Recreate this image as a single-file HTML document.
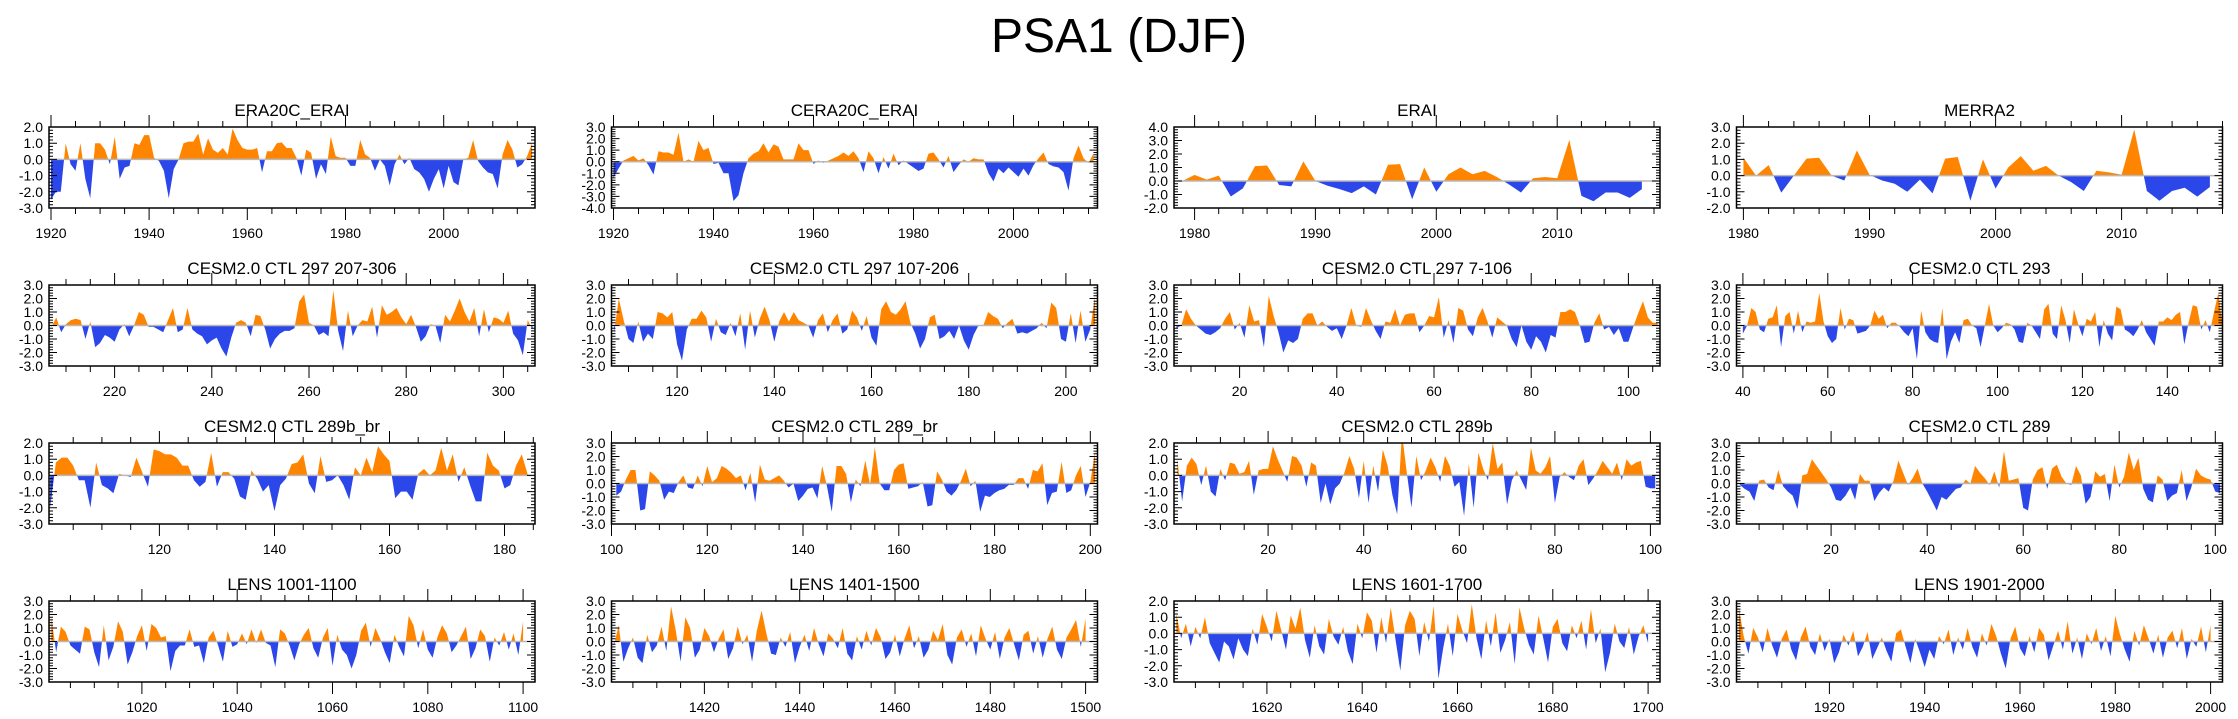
<!DOCTYPE html>
<html><head><meta charset="utf-8"><style>
html,body{margin:0;padding:0;background:#fff;}
svg{display:block;font-family:"Liberation Sans",sans-serif;}
</style></head>
<body>
<svg id="fig" width="2238" height="719" viewBox="0 0 2238 719" xmlns="http://www.w3.org/2000/svg">
<text x="1119" y="52" text-anchor="middle" font-size="48" fill="#000">PSA1 (DJF)</text>
</svg>
<script>
const titles = ["ERA20C_ERAI","CERA20C_ERAI","ERAI","MERRA2",
"CESM2.0 CTL 297 207-306","CESM2.0 CTL 297 107-206","CESM2.0 CTL 297 7-106","CESM2.0 CTL 293",
"CESM2.0 CTL 289b_br","CESM2.0 CTL 289_br","CESM2.0 CTL 289b","CESM2.0 CTL 289",
"LENS 1001-1100","LENS 1401-1500","LENS 1601-1700","LENS 1901-2000"];
const startYears = [1920,1920,1979,1980,207,107,7,40,101,101,1,1,1001,1401,1601,1901];
const xMins = [1919.6,1919.6,1978.3,1979.45,206.5,106.5,6.5,38.5,100.8,100,0.3,0.3,1000.5,1400.5,1600.5,1900.5];
const xMaxs = [2018.6,2016.8,2018.5,2018.0,306.5,206.5,106.5,153,185.3,201.5,102,101.5,1102.5,1502.5,1702.5,2002.5];
const yMins = [-3,-4,-2,-2,-3,-3,-3,-3,-3,-3,-3,-3,-3,-3,-3,-3];
const yMaxs = [2,3,4,3,3,3,3,3,2,3,2,3,3,3,2,3];
const majorSteps = [20,20,10,10,20,20,20,20,20,20,20,20,20,20,20,20];
const minorSteps = [5,5,2,2,5,5,5,5,5,5,5,5,5,5,5,5];

const v0 = [-2.5,-2.0,-2.0,1.0,-0.3,-0.7,1.0,-1.2,-2.4,1.0,1.0,0.6,-0.3,1.4,-1.2,-0.5,-0.4,1.0,0.9,1.5,1.5,0.1,-0.1,-0.7,-2.4,-0.6,0.0,1.0,1.1,1.1,1.6,0.3,1.3,0.6,0.4,0.7,0.3,1.9,1.2,0.7,0.6,0.6,0.7,-0.8,0.5,0.5,1.0,1.05,0.7,0.7,0.1,-1.0,0.6,0.4,-1.2,-0.3,-0.9,1.4,0.2,0.1,0.1,-0.4,-0.4,1.2,0.3,0.1,-0.7,0.0,-0.4,-1.6,-0.3,0.3,-0.3,0.1,-0.6,-0.8,-1.2,-2.0,-1.2,-0.6,-1.8,-0.4,-1.4,-1.6,0.0,0.1,1.2,-0.1,-0.5,-0.8,-0.9,-1.8,0.3,1.2,0.6,-0.5,-0.3,0.2,1.0];
const v1 = [-1.4,-0.6,0.1,0.3,0.5,0.1,0.3,-0.3,-1.1,0.9,0.8,0.8,0.6,2.5,0.0,0.2,0.0,1.8,1.0,1.2,-0.2,-0.1,-1.0,-1.0,-3.4,-2.9,-1.0,0.3,0.7,0.9,1.6,0.8,1.5,1.3,0.2,0.2,0.2,1.6,1.0,1.0,-0.2,0.1,-0.1,0.1,0.3,0.5,0.8,0.5,0.9,0.3,-0.9,0.9,0.3,-1.0,0.4,-0.6,0.7,-0.3,0.1,-0.2,-0.5,-0.8,-0.6,0.7,0.8,0.2,-0.5,0.5,-0.9,-0.3,0.2,0.0,0.3,0.2,0.2,-1.0,-1.7,-0.6,-1.0,-0.5,-0.9,-1.3,-0.6,-1.2,-0.3,0.3,0.8,-0.2,-0.4,-0.5,-0.9,-2.5,0.3,1.4,0.3,-0.1,0.7];
const v2 = [0.0,0.45,0.1,0.4,-1.15,-0.55,1.1,1.15,-0.3,-0.4,1.45,0.0,-0.35,-0.6,-0.9,-0.4,-1.0,1.2,1.25,-1.35,1.0,-0.8,0.5,1.0,0.5,0.75,0.3,-0.25,-0.85,0.2,0.3,0.2,3.05,-1.1,-1.5,-0.85,-0.85,-1.25,-0.6];
const v3 = [1.1,0.0,0.65,-1.05,0.0,1.05,1.1,0.0,-0.3,1.55,0.05,-0.3,-0.5,-1.0,-0.25,-1.1,1.05,1.15,-1.55,1.0,-0.8,0.5,1.2,0.3,0.6,0.0,-0.4,-0.95,0.3,0.2,0.05,2.85,-0.95,-1.55,-0.95,-0.75,-1.3,-0.7];
const v4 = [-0.1,0.6,-0.5,0.1,0.4,0.5,0.4,-1.0,0.3,-1.6,-1.3,-0.7,-0.9,-1.2,-0.3,0.1,-0.8,0.0,1.0,0.8,-0.1,-0.1,-0.3,-0.5,0.4,1.3,-0.5,-0.3,1.3,-0.3,-0.6,-0.8,-1.4,-1.1,-0.9,-1.7,-2.3,-0.9,0.2,0.4,0.2,-0.8,0.8,0.7,-0.3,-1.7,-1.0,-0.6,-0.4,-0.4,-0.2,1.8,2.3,0.2,0.0,-0.7,-0.5,-0.8,2.6,-0.4,-1.9,1.1,-0.8,0.0,0.4,0.3,1.4,-0.9,1.5,0.8,1.0,1.3,0.6,0.1,0.8,-0.1,-1.2,-0.8,0.1,0.0,-1.3,0.8,0.3,1.1,2.0,1.0,0.3,1.3,-0.8,1.2,-0.5,0.6,0.5,0.2,1.1,-0.6,-1.1,-2.2,0.4,-0.3];
const v5 = [-0.6,2.0,0.4,-1.0,-1.3,0.3,-1.2,-0.6,-1.0,1.0,0.9,0.6,1.0,-1.4,-2.6,-0.3,0.5,0.5,1.1,0.6,-1.2,0.5,-0.5,-0.7,0.2,-0.8,0.9,-1.8,1.1,-0.9,0.5,1.4,0.4,-1.2,0.3,1.0,0.3,1.0,0.4,0.2,0.0,-0.9,0.4,0.9,-0.5,0.4,0.9,-0.6,-0.3,1.1,0.6,-0.4,0.7,-0.9,-1.5,1.2,1.8,1.0,0.8,1.2,1.8,0.2,-0.6,-1.7,-1.0,0.6,0.8,-1.0,-0.8,-0.4,-1.0,0.0,-1.1,-1.8,-0.7,0.0,0.0,1.0,0.7,0.5,-0.2,0.2,0.5,-0.6,-0.5,-0.6,-0.4,-0.2,0.2,-0.2,1.7,1.3,-1.0,-1.2,0.9,-1.3,1.1,-1.2,-0.3,2.2];
const v6 = [-0.2,0.0,1.2,0.5,0.0,-0.3,-0.6,-0.7,-0.5,-0.2,0.5,1.0,-0.3,0.2,-0.9,1.5,0.3,0.4,-1.6,2.2,0.7,-0.5,-2.0,-1.1,-1.3,-1.0,0.5,0.9,0.9,0.0,0.3,-0.1,-0.4,-0.2,-1.0,0.0,1.3,0.0,-0.1,1.3,0.4,-0.4,-1.0,0.3,0.2,1.2,0.0,0.8,0.9,0.9,-0.5,0.0,0.7,0.6,2.1,-0.9,0.4,-1.3,1.3,1.1,-0.3,-0.8,0.6,1.3,0.3,-0.9,0.6,0.3,0.0,-1.0,-1.6,0.0,-1.2,-1.8,-0.8,-1.2,-2.0,-0.7,-0.9,1.0,1.0,1.2,1.0,0.0,-1.3,-1.2,0.2,0.9,-0.3,-0.1,-0.7,-0.2,-1.2,-1.2,-0.1,0.9,1.8,0.6,0.2,0.2];
const v7 = [-0.6,0.0,1.3,1.0,-0.3,-0.5,0.5,0.6,1.5,-1.6,0.7,1.0,-0.6,1.1,-0.5,0.3,0.2,0.3,2.4,0.3,-0.8,-1.3,-1.0,1.3,-0.3,0.5,0.4,-0.6,-0.5,-0.4,0.0,1.1,0.5,0.8,-0.2,0.2,0.2,-0.1,-0.5,-0.8,-0.2,-2.5,1.1,-0.5,-1.0,-1.2,-1.3,1.3,-2.5,-1.2,-0.5,-1.3,0.4,0.5,0.0,-0.2,-1.6,0.0,1.6,0.0,-0.5,-0.2,0.2,0.1,-0.3,-1.2,-1.3,0.2,0.0,-0.5,-1.0,1.2,1.6,-0.6,-1.0,1.5,0.4,-1.3,1.2,0.1,-0.8,0.5,0.3,1.0,-1.6,0.4,-0.6,-1.1,1.4,1.2,-0.3,-0.5,-0.8,-0.3,0.4,-0.5,-1.0,-1.5,0.3,0.3,0.6,0.4,0.8,1.0,-1.4,0.2,1.5,1.4,-0.3,0.4,-0.5,1.0,2.4,0.0];
const v8 = [-2.0,0.8,1.1,1.1,0.6,-0.3,-0.3,-2.0,0.8,-0.6,-0.8,-1.1,0.1,0.0,-0.1,1.1,0.2,-0.7,1.6,1.5,1.3,1.3,1.1,0.6,0.6,-0.3,-0.7,-0.4,1.4,-0.7,0.2,0.2,-0.2,-1.3,-1.5,0.3,-0.2,-1.0,-0.6,-2.2,-0.6,-0.2,0.7,0.8,1.3,-0.5,-1.1,1.2,-0.4,-0.3,0.0,-0.6,-1.5,0.5,0.0,1.1,0.2,1.8,1.3,0.9,-1.4,-1.0,-1.0,-1.5,0.1,0.4,0.0,0.3,1.7,0.3,1.3,-0.4,0.5,-0.6,-1.6,-1.6,1.4,0.6,0.3,-0.8,-0.6,0.6,1.3,0.1];
const v9 = [-0.9,-0.6,0.3,1.0,1.0,-2.0,-1.9,0.9,0.6,0.2,-1.2,-0.6,-0.7,0.1,0.6,-0.3,-0.4,0.6,-0.2,1.3,0.1,0.4,1.3,1.1,0.8,0.4,0.6,-0.5,0.8,-1.4,1.4,0.3,0.2,0.4,0.6,0.2,-0.3,0.0,-1.3,-0.9,-0.4,-0.3,-1.1,1.3,-0.2,-2.1,1.3,1.3,0.7,-1.4,0.3,-0.2,1.7,-0.1,2.7,0.0,-0.5,-0.5,1.0,1.4,1.5,-0.4,-0.3,-0.2,0.1,-1.7,-1.6,0.9,0.3,-0.6,-0.9,-0.5,0.2,1.1,-0.2,0.2,-2.1,-0.9,-1.0,-0.7,-0.5,-0.4,-0.1,-0.1,0.4,0.4,-0.4,1.0,0.9,1.5,-1.6,-0.7,-0.6,1.6,-0.7,-0.5,0.6,1.3,-1.0,0.1,2.4];
const v10 = [1.0,-1.6,0.6,1.1,0.7,-0.6,0.6,-1.0,-1.3,0.4,-0.3,0.8,0.7,0.1,0.2,0.9,-1.2,0.3,0.4,0.4,1.8,1.0,0.3,-0.4,1.2,1.1,0.6,-0.7,0.8,0.6,-1.7,-0.5,-1.8,-0.8,-0.5,0.2,1.2,0.4,-1.4,0.9,-1.7,0.6,-1.0,1.6,0.6,-1.2,-2.4,2.6,0.2,-2.0,1.2,-0.3,0.3,1.1,0.5,-0.4,1.2,0.6,-0.7,-0.4,-2.5,0.7,-2.0,1.4,0.4,-0.3,2.0,0.4,0.8,-1.8,-0.3,0.3,-0.3,-0.9,1.7,0.3,0.1,0.5,1.2,-1.7,-0.1,0.2,-0.1,-0.3,0.6,1.0,-0.6,-0.2,0.3,0.9,0.5,0.1,0.8,-0.3,1.0,0.6,0.8,0.9,-0.7,-0.8,-0.8];
const v11 = [-0.1,-0.4,-0.6,-1.3,0.2,0.3,-0.3,-0.5,1.0,-0.2,-0.6,-0.9,-1.9,0.6,0.7,1.8,1.3,0.8,0.3,-0.3,-1.2,-1.3,-0.9,-0.3,-1.2,0.7,0.2,0.2,-1.3,-0.7,-0.3,-0.6,0.2,1.7,0.8,-0.1,0.4,1.1,0.0,-0.6,-1.3,-2.0,-1.0,-1.2,-0.8,-0.4,-0.3,0.3,0.0,1.3,0.8,0.4,-0.1,0.9,-0.3,2.4,0.2,0.3,0.4,-1.8,-2.0,0.3,1.0,1.2,-0.4,1.1,1.4,0.5,0.0,-0.1,1.3,0.6,-1.5,-1.0,0.9,0.5,0.7,-1.3,1.4,-0.3,0.5,2.3,1.0,1.9,-0.4,-1.2,-1.4,0.6,0.3,-1.3,-0.9,-0.7,1.0,-1.3,-0.3,1.1,0.6,0.4,0.3,-0.6,-0.7];
const v12 = [1.8,-0.8,1.1,0.7,-0.3,-0.6,-0.9,1.1,0.9,-0.8,-1.9,1.2,-1.4,-0.4,1.5,0.7,-1.7,-0.8,0.4,1.2,-0.7,1.3,1.0,0.3,0.4,-2.2,-0.7,-0.3,-0.3,0.9,-0.4,-0.3,-1.6,0.3,0.8,-0.3,-1.5,0.8,-0.4,-0.2,0.6,-0.2,0.9,-0.1,0.9,-0.1,-0.3,-1.9,0.9,0.6,-0.3,-1.4,-0.2,0.5,1.0,-0.5,-1.2,0.3,1.0,-1.8,0.5,-0.6,-1.0,-2.0,-1.0,0.8,1.4,-0.4,1.0,0.2,-0.8,-1.6,0.5,-0.4,-1.1,1.9,1.2,-0.5,0.9,-0.6,-1.2,0.3,1.2,0.6,-0.8,-0.3,0.4,1.1,-1.3,-0.5,0.9,0.4,-1.5,0.3,-0.3,0.7,-0.6,0.6,-1.0,1.5];
const v13 = [-0.3,1.2,-1.5,-0.5,0.3,-1.2,-1.6,0.5,-0.8,-0.3,1.1,-0.7,2.6,0.8,-1.5,1.8,1.0,-1.2,-0.6,1.0,0.4,-0.8,0.2,0.9,-1.3,-0.5,1.1,-0.2,0.5,-1.5,0.8,2.3,0.6,-0.9,-1.0,0.3,-0.4,0.7,-1.6,-0.4,0.5,-0.7,1.0,-0.2,-1.1,0.6,0.2,-0.5,1.0,-0.9,-1.4,0.4,-0.6,0.8,-0.3,1.0,0.3,-1.3,-0.8,0.5,-1.1,0.2,1.2,-0.5,0.4,-1.2,-0.6,0.8,0.1,1.3,-1.0,-1.7,0.3,0.9,-0.4,0.6,-1.1,1.2,0.2,-0.6,0.7,-1.3,0.3,1.0,-0.2,-1.4,0.5,0.8,-0.9,0.4,-1.2,0.2,1.1,-0.6,-1.3,0.3,0.9,1.6,-0.4,1.7];
const v14 = [1.2,-0.3,0.6,-0.8,0.4,-0.3,1.0,-0.6,-1.2,-1.8,-0.5,-0.8,-1.6,-0.3,-1.0,-1.4,0.3,-0.7,1.2,0.4,-0.5,1.4,0.2,-1.0,1.1,0.3,1.6,-0.4,-1.5,0.5,-0.8,-1.3,0.9,-0.2,-0.7,0.4,-1.1,-1.9,0.6,-0.3,1.3,0.8,-1.2,1.0,-0.6,1.6,-0.4,-2.3,0.5,1.4,0.9,-1.4,0.7,-0.5,1.7,-2.8,-0.9,0.6,-1.4,1.2,0.2,-0.6,1.8,-0.3,-1.6,0.8,-0.8,1.3,-1.2,-0.4,0.7,-1.9,1.6,0.3,-0.7,-1.3,1.1,-0.3,-1.8,0.4,0.9,-0.6,-1.1,0.5,-0.3,0.8,-1.0,1.5,-0.6,0.3,-2.4,-1.2,0.6,-0.5,-0.9,0.4,-1.3,-0.2,0.5,-0.6];
const v15 = [2.5,0.4,-0.9,1.0,0.3,-0.8,1.0,-0.3,-1.2,0.2,0.9,-0.6,-1.4,0.3,1.1,-0.4,-1.0,0.6,-0.7,0.2,-1.6,-0.8,0.5,-0.3,0.8,-1.1,-0.4,0.7,-1.3,-0.5,0.3,-0.7,-1.5,0.6,0.9,-0.4,-1.6,0.2,-0.8,-1.9,-0.6,-1.3,0.4,-0.2,0.9,-1.0,0.3,-0.6,1.0,-0.4,-1.2,0.6,-0.3,1.3,0.4,-0.9,-2.0,0.2,1.1,-0.5,-1.1,0.4,-0.8,1.0,0.5,-1.4,-0.3,0.8,-0.6,1.5,-0.9,0.3,-1.3,0.6,-0.2,1.0,-0.7,0.4,-1.1,1.9,0.5,-0.6,-1.5,0.8,-0.3,1.2,0.2,-0.9,0.5,-1.2,0.3,0.8,-0.5,1.0,-1.3,0.2,-0.4,1.1,-0.8,1.2];
const series = [v0,v1,v2,v3,v4,v5,v6,v7,v8,v9,v10,v11,v12,v13,v14,v15];

const NS = "http://www.w3.org/2000/svg";
const svg = document.getElementById("fig");
const colLeft = [49, 611.5, 1174, 1736.5], rowTop = [127, 285, 443, 601];
const PW = 486, PH = 81;
function mk(tag, attrs, parent){const e=document.createElementNS(NS,tag);for(const k in attrs)e.setAttribute(k,attrs[k]);(parent||svg).appendChild(e);return e;}
const defs = mk("defs",{});
for(let p=0;p<16;p++){
  const L=colLeft[p%4], T=rowTop[Math.floor(p/4)], R=L+PW, B=T+PH;
  const x0=xMins[p], x1=xMaxs[p], y0=yMins[p], y1=yMaxs[p];
  const X=v=>L+(v-x0)/(x1-x0)*PW;
  const Y=v=>B-(v-y0)/(y1-y0)*PH;
  const g=mk("g",{});
  
  
  const t=mk("text",{x:(L+R)/2,y:T-11,"text-anchor":"middle","font-size":17},g);
  t.textContent=titles[p];
  
  
  const zy=Y(0);
  const cpA=mk("clipPath",{id:"ca"+p},defs); mk("rect",{x:L,y:T,width:PW,height:zy-T},cpA);
  const cpB=mk("clipPath",{id:"cb"+p},defs); mk("rect",{x:L,y:zy,width:PW,height:B-zy},cpB);
  const vals=series[p], s=startYears[p];
  let pts=X(s).toFixed(2)+","+zy.toFixed(2);
  vals.forEach((v,i)=>{pts+=" "+X(s+i).toFixed(2)+","+Y(v).toFixed(2);});
  pts+=" "+X(s+vals.length-1).toFixed(2)+","+zy.toFixed(2);
  const pos=mk("polygon",{points:pts,fill:"#ff8500","clip-path":"url(#ca"+p+")"},g);
  
  
  const neg=mk("polygon",{points:pts,fill:"#2b47ea","clip-path":"url(#cb"+p+")"},g);
  
  
  const zl=mk("line",{x1:L,x2:R,y1:zy,y2:zy,stroke:"#b8b8b8","stroke-width":1.5},g);
  
  
  let d="";
  for(let k=Math.round(y0*5);k<=Math.round(y1*5);k++){
    const yy=Y(k/5).toFixed(1), maj=(k%5===0), len=maj?8:4;
    d+=`M${L},${yy}h${len}M${R},${yy}h${-len}`;
    if(maj){
      const lb=mk("text",{x:L-6,y:+yy+5,"text-anchor":"end","font-size":14},g);
      lb.textContent=(k/5).toFixed(1);
      
      
    }
  }
  const mi=minorSteps[p], ma=majorSteps[p];
  for(let v=Math.ceil(x0/mi)*mi; v<=x1; v+=mi){
    const xx=X(v).toFixed(1), maj=(v%ma===0), len=maj?12:6;
    d+=`M${xx},${T}v${-len}M${xx},${B}v${len}`;
    if(maj){
      const lb=mk("text",{x:xx,y:B+30,"text-anchor":"middle","font-size":14},g);
      lb.textContent=v;
      
      
    }
  }
  const tk=mk("path",{d:d,stroke:"#000","stroke-width":1,fill:"none"},g);
  
  
  const fr=mk("rect",{x:L,y:T,width:PW,height:PH,fill:"none",stroke:"#000","stroke-width":1.5},g);
  
  
}
</script>
</body></html>
